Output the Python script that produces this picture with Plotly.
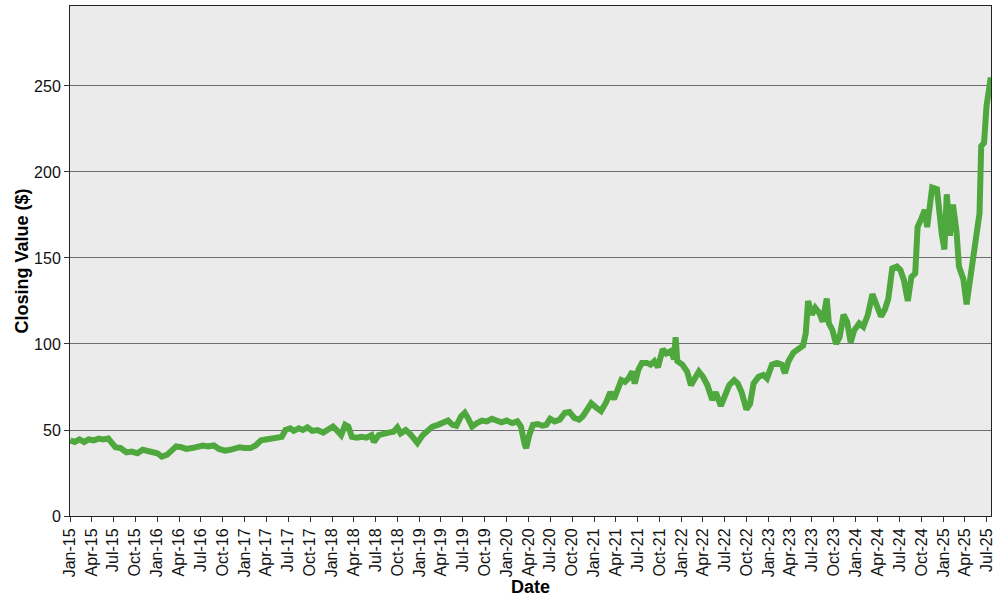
import plotly.graph_objects as go

dates = [
    "2015-01-02","2015-01-20","2015-02-10","2015-03-01","2015-03-20","2015-04-10","2015-05-01","2015-05-20",
    "2015-06-10","2015-06-25","2015-07-10","2015-08-01","2015-08-25","2015-09-15","2015-10-10","2015-11-01",
    "2015-11-20","2015-12-10","2016-01-01","2016-01-20","2016-02-10","2016-03-01","2016-03-20","2016-04-10",
    "2016-05-01","2016-05-25","2016-06-15","2016-07-10","2016-08-01","2016-08-25","2016-09-15","2016-10-10",
    "2016-11-01","2016-11-20","2016-12-10","2017-01-01","2017-01-25","2017-02-15","2017-03-10","2017-03-30",
    "2017-04-20","2017-05-15","2017-06-05","2017-06-20","2017-07-10","2017-07-25","2017-08-15","2017-09-01",
    "2017-09-20","2017-10-10","2017-11-01","2017-11-25","2017-12-15","2018-01-05","2018-01-20","2018-02-08",
    "2018-02-25","2018-03-10","2018-03-25","2018-04-15","2018-05-05","2018-05-25","2018-06-15","2018-06-25",
    "2018-07-15","2018-08-05","2018-08-25","2018-09-15","2018-10-01","2018-10-15","2018-11-05","2018-11-25",
    "2018-12-10","2018-12-24","2019-01-15","2019-02-05","2019-02-25","2019-03-20","2019-04-10","2019-05-01",
    "2019-05-20","2019-06-05","2019-06-25","2019-07-10","2019-07-25","2019-08-10","2019-08-30","2019-09-20",
    "2019-10-10","2019-11-01","2019-11-20","2019-12-10","2020-01-01","2020-01-25","2020-02-15","2020-03-01",
    "2020-03-16","2020-03-23","2020-04-05","2020-04-20","2020-05-10","2020-05-30","2020-06-15","2020-07-01",
    "2020-07-20","2020-08-10","2020-09-01","2020-09-20","2020-10-10","2020-10-30","2020-11-15","2020-12-05",
    "2020-12-20","2021-01-10","2021-01-30","2021-02-20","2021-03-10","2021-03-25","2021-04-10","2021-04-25",
    "2021-05-10","2021-05-25","2021-06-10","2021-06-20","2021-07-05","2021-07-20","2021-08-10","2021-08-25",
    "2021-09-10","2021-09-25","2021-10-15","2021-10-30","2021-11-20","2021-12-01","2021-12-08","2021-12-15",
    "2022-01-05","2022-01-25","2022-02-10","2022-02-25","2022-03-15","2022-04-01","2022-04-20","2022-05-10",
    "2022-05-25","2022-06-15","2022-07-01","2022-07-20","2022-08-10","2022-08-25","2022-09-10","2022-09-30",
    "2022-10-15","2022-10-30","2022-11-20","2022-12-10","2022-12-25","2023-01-15","2023-02-05","2023-02-25",
    "2023-03-10","2023-03-25","2023-04-15","2023-05-05","2023-05-25","2023-06-05","2023-06-15","2023-07-01",
    "2023-07-15","2023-08-01","2023-08-15","2023-09-01","2023-09-10","2023-09-25","2023-10-10","2023-10-25",
    "2023-11-10","2023-11-25","2023-12-10","2023-12-25","2024-01-15","2024-02-01","2024-02-20","2024-03-10",
    "2024-03-25","2024-04-15","2024-05-01","2024-05-15","2024-06-01","2024-06-20","2024-07-05","2024-07-20",
    "2024-08-05","2024-08-20","2024-09-05","2024-09-15","2024-10-01","2024-10-15","2024-10-25","2024-11-05",
    "2024-11-15","2024-12-05","2024-12-15","2024-12-25","2025-01-05","2025-01-15","2025-01-28","2025-02-10",
    "2025-02-25","2025-03-07","2025-03-25","2025-04-08","2025-04-20","2025-05-05","2025-05-20","2025-06-01",
    "2025-06-08","2025-06-20","2025-06-30","2025-07-10","2025-07-18",
]

closing = [
    44, 43, 44.5, 43, 44.5, 44, 45, 44.5,
    45, 43, 40, 39.5, 37, 37.5, 36.5, 38.5,
    38, 37, 36.5, 34.5, 35.5, 38, 40.5, 40,
    39, 39.5, 40.5, 41, 40.5, 41, 39, 38,
    38.5, 39, 40, 39.5, 39.5, 41, 44, 44.5,
    45, 45.5, 46, 50, 51, 49.5, 51, 50,
    51.5, 49.5, 50, 48.5, 50, 52, 50, 47,
    53, 52, 46, 45.5, 46, 45.5, 47, 43,
    47, 48, 48.5, 49, 51.5, 48, 50, 47.5,
    45, 42.5, 47, 50, 52, 53, 54, 55.5,
    53, 52.5, 58, 60, 56.5, 52, 54, 55.5,
    55, 56.5, 55.5, 54.5, 55.5, 54, 55, 52,
    42, 39.5, 47, 53, 53.5, 52.5, 53, 56.5,
    55, 56, 60, 60.5, 57, 56, 58, 62,
    65.5, 63, 61, 66, 72, 68, 73, 79,
    78, 80, 84, 77, 85, 89, 89, 88,
    90, 86.5, 97, 94.5, 96, 91, 104, 90,
    88, 84, 76, 80, 84, 81, 76, 67.5,
    72, 64, 70, 76, 79, 77, 72, 62,
    65, 77, 81, 82, 80, 88, 89, 88,
    83, 90, 95, 97, 99, 106, 125, 117,
    121, 118, 113, 126.5, 112, 108, 100, 104,
    117, 113, 101, 108, 112, 110, 117, 129,
    124, 116, 120, 126, 144, 145, 143, 137,
    125, 139, 141, 168, 173, 178, 168, 182,
    191, 190, 175, 164, 155, 187, 163, 181,
    165, 145, 138, 123, 135, 150, 165, 176,
    215, 217, 238, 249, 255,
]

y_ticks = [0, 50, 100, 150, 200, 250]

fig = go.Figure()
fig.add_trace(go.Scatter(
    x=dates, y=closing, mode="lines",
    line=dict(color="#4FA83D", width=6),
    showlegend=False,
))

fig.update_layout(
    width=1000, height=600,
    margin=dict(l=70, r=9, t=6, b=84, autoexpand=False),
    paper_bgcolor="white",
    plot_bgcolor="#EBEBEB",
    font=dict(family="Liberation Sans, Arial, sans-serif", size=16, color="#111111"),
)
fig.update_xaxes(
    type="date",
    range=["2015-01-01", "2025-07-19"],
    tick0="2015-01-01", dtick="M3", tickformat="%b-%y",
    tickangle=-90,
    ticks="outside", ticklen=5, tickcolor="#333333",
    showgrid=False, zeroline=False, automargin=False,
    showline=True, linecolor="#222222", linewidth=1, mirror=True,
    title=dict(text="<b>Date</b>", font=dict(size=18, color="black"), standoff=0),
    tickfont=dict(size=16, color="#111111"),
)
fig.update_yaxes(
    range=[0, 296.5],
    tickvals=y_ticks,
    ticks="outside", ticklen=5, tickcolor="#333333",
    showgrid=True, gridcolor="#6E6E6E", gridwidth=1,
    zeroline=False, automargin=False,
    showline=True, linecolor="#222222", linewidth=1, mirror=True,
    title=dict(text="<b>Closing Value ($)</b>", font=dict(size=18, color="black"), standoff=0),
    tickfont=dict(size=16, color="#111111"),
)

fig.write_html(
    "out.html",
    config={"displayModeBar": False},
    post_script="document.body.style.margin='0';document.body.style.overflow='hidden';",
)
